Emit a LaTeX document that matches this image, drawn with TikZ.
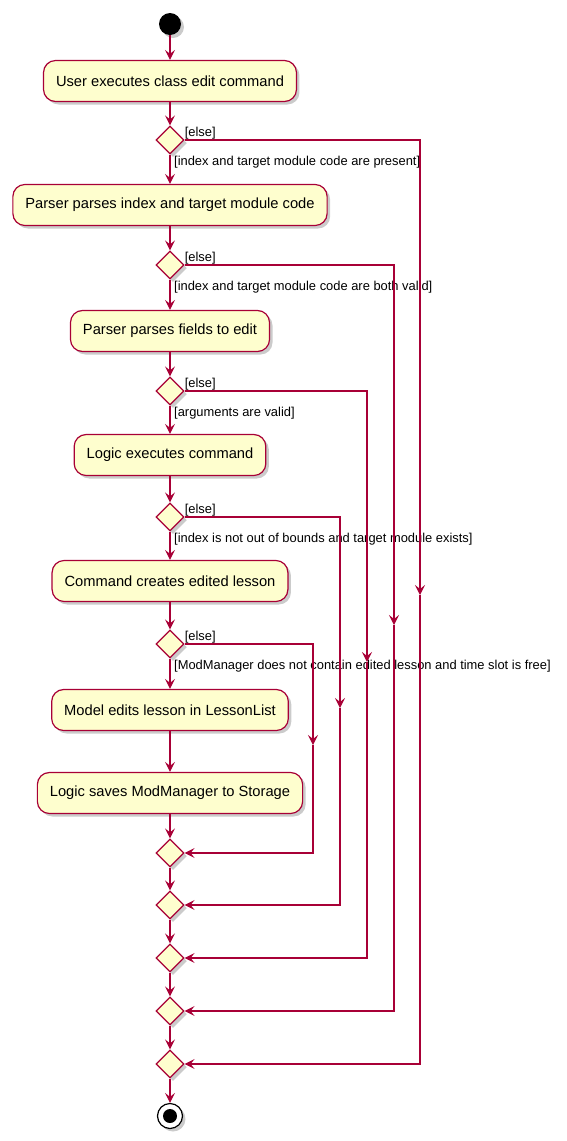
\documentclass[tikz,border=0pt]{standalone}
\usepackage{fontspec}
\setmainfont{Liberation Sans}
\usetikzlibrary{positioning,arrows.meta,shapes.geometric,shadows}
\definecolor{umlred}{RGB}{168,0,54}
\definecolor{umlfill}{RGB}{254,254,206}

\begin{document}
\begin{tikzpicture}[
x=1pt, y=-1pt,
shade/.style={drop shadow={shadow xshift=3pt, shadow yshift=-3pt, fill=black!45, opacity=0.45}},
act/.style={draw=umlred, fill=umlfill, line width=1.2pt, rounded corners=12pt, minimum height=41pt, inner xsep=12.5pt, font=\fontsize{14.7}{17}\selectfont, shade},
choice/.style={diamond, aspect=1, draw=umlred, fill=umlfill, line width=1.2pt, minimum size=28pt, inner sep=0pt, shade},
guard/.style={font=\fontsize{12.9}{15}\selectfont, inner sep=1pt},
arr/.style={-{Stealth[length=10pt, width=10pt, inset=4pt]}, draw=umlred, line width=1.2pt}
]
\useasboundingbox (0,0) rectangle (566,1141);

\node[circle, fill=black, minimum size=22pt, inner sep=0pt, shade] (start) at (170,24) {};
\node[act] (a1) at (170,81) {User executes class edit command};
\node[choice] (d1) at (170,140) {};
\node[act] (a2) at (170,205) {Parser parses index and target module code};
\node[choice] (d2) at (170,265) {};
\node[act] (a3) at (170,331) {Parser parses fields to edit};
\node[choice] (d3) at (170,391) {};
\node[act] (a4) at (170,455) {Logic executes command};
\node[choice] (d4) at (170,517) {};
\node[act] (a5) at (170,581) {Command creates edited lesson};
\node[choice] (d5) at (170,644) {};
\node[act] (a6) at (170,710) {Model edits lesson in LessonList};
\node[act] (a7) at (170,793) {Logic saves ModManager to Storage};
\node[choice] (m1) at (170,853) {};
\node[choice] (m2) at (170,905) {};
\node[choice] (m3) at (170,958) {};
\node[choice] (m4) at (170,1011) {};
\node[choice] (m5) at (170,1064) {};
\node[circle, draw=black, line width=1.2pt, fill=white, minimum size=25pt, inner sep=0pt, shade] (stop) at (170,1116) {};
\node[circle, fill=black, minimum size=14pt, inner sep=0pt] (stopdot) at (stop) {};

% guards of the main flow
\node[guard, anchor=north west] (g1) at ([xshift=3pt]d1.south) {[index and target module code are present]};
\node[guard, anchor=north west] (g2) at ([xshift=3pt]d2.south) {[index and target module code are both valid]};
\node[guard, anchor=north west] (g3) at ([xshift=3pt]d3.south) {[arguments are valid]};
\node[guard, anchor=north west] (g4) at ([xshift=3pt]d4.south) {[index is not out of bounds and target module exists]};
\node[guard, anchor=north west] (g5) at ([xshift=3pt]d5.south) {[ModManager does not contain edited lesson and time slot is free]};

\draw[arr] (start) -- (a1);
\draw[arr] (a1) -- (d1);
\draw[arr] (d1) -- (a2);
\draw[arr] (a2) -- (d2);
\draw[arr] (d2) -- (a3);
\draw[arr] (a3) -- (d3);
\draw[arr] (d3) -- (a4);
\draw[arr] (a4) -- (d4);
\draw[arr] (d4) -- (a5);
\draw[arr] (a5) -- (d5);
\draw[arr] (d5) -- (a6);
\draw[arr] (a6) -- (a7);
\draw[arr] (a7) -- (m1);
\draw[arr] (m1) -- (m2);
\draw[arr] (m2) -- (m3);
\draw[arr] (m3) -- (m4);
\draw[arr] (m4) -- (m5);
\draw[arr] (m5) -- (stop);

% else branches
\foreach \d/\m/\x/\y in {d1/m5/420/595, d2/m4/394/625, d3/m3/367/662, d4/m2/340/708, d5/m1/313/745} {
  \coordinate (k\d) at (\x,\y);
  \node[guard, anchor=south west] (else\d) at ([xshift=-1pt]\d.east) {[else]};
  \draw[arr] (\d.east) -| (k\d);
  \draw[arr] (k\d) |- (\m.east);
}
\end{tikzpicture}
\end{document}
